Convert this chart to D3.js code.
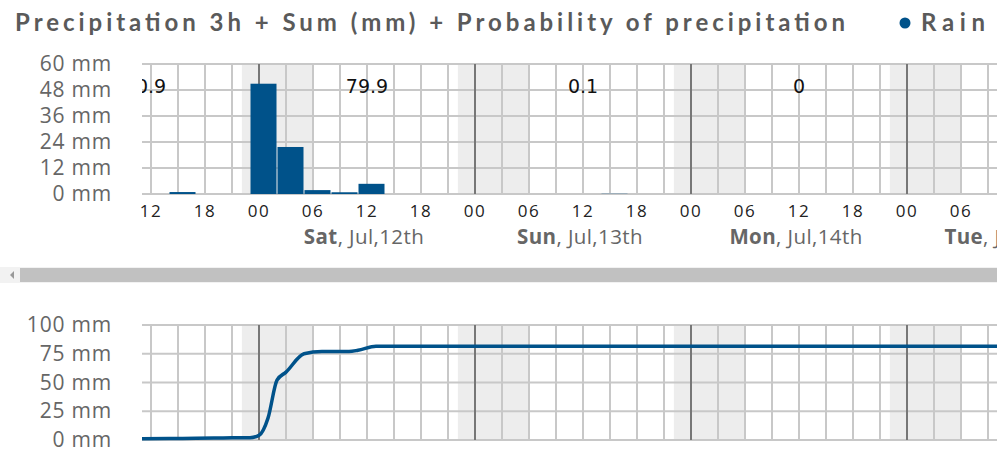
<!DOCTYPE html>
<html><head><meta charset="utf-8">
<script src="https://cdn.jsdelivr.net/npm/d3@7"></script>
<style>body{margin:0;background:#fff}svg{display:block}</style>
</head><body><svg id="c" width="997" height="464"></svg>
<script>
// hours relative to Fri, Jul 11th 00:00
const domainHours = [11, 106];
const barStarts = [14, 23, 26, 29, 32, 35, 62];
const barValues = [0.9, 50.9, 21.7, 1.8, 0.8, 4.7, 0.1];
const sumHours = [12, 36, 60, 84];
const sumLabels = ["0.9", "79.9", "0.1", "0"];
const cumHours = [11, 14, 17, 20, 23, 24, 25, 26, 27, 29, 31, 34, 35, 37, 62, 106];
const cumValues = [1, 1.2, 1.6, 1.8, 2, 4, 19, 52, 59, 75, 77, 77, 78, 81.5, 81.6, 81.6];
const midnights = [24, 48, 72, 96];
const nightBands = [[22.1, 30], [46.1, 54], [70.1, 78], [94.1, 102]];
const dayLabels = [["Sat", ", Jul,12th", 36], ["Sun", ", Jul,13th", 60], ["Mon", ", Jul,14th", 84], ["Tue", ", Jul,15th", 108]];
const topTicks = [0, 12, 24, 36, 48, 60];
const botTicks = [0, 25, 50, 75, 100];

const svg = d3.select("#c");
const x = d3.scaleLinear().domain(domainHours).range([142, 997]);
const yT = d3.scaleLinear().domain([0, 60]).range([194, 64]);
const yB = d3.scaleLinear().domain([0, 100]).range([440, 325]);
const blue = "#00528a";
const grid = "#c8c8c8";
const clip = svg.append("defs").append("clipPath").attr("id","pc");
clip.append("rect").attr("x",142).attr("y",0).attr("width",855).attr("height",464);

svg.append("text").attr("x",15).attr("y",31).text("Precipitation 3h + Sum (mm) + Probability of precipitation")
  .attr("font-family","Lato").attr("font-weight","bold").attr("font-size",24).attr("fill","#5a5a5a")
  .attr("textLength",830).attr("lengthAdjust","spacing");
svg.append("circle").attr("cx",905).attr("cy",23).attr("r",5.5).attr("fill",blue);
svg.append("text").attr("x",921).attr("y",31).text("Rain").attr("font-family","Lato").attr("font-weight","bold").attr("font-size",24).attr("fill","#5a5a5a")
  .attr("textLength",64).attr("lengthAdjust","spacing");

function panel(y, ticks){
  const g = svg.append("g").attr("clip-path","url(#pc)");
  const [y0,y1] = y.range();
  nightBands.forEach(b=>g.append("rect").attr("x",x(b[0])).attr("width",x(b[1])-x(b[0])).attr("y",y1).attr("height",y0-y1).attr("fill","#ededed"));
  d3.range(12, 106, 3).forEach(h=>{
    if (midnights.includes(h)) return;
    g.append("line").attr("x1",x(h)).attr("x2",x(h)).attr("y1",y1).attr("y2",y0).attr("stroke",grid).attr("stroke-width",2);
  });
  ticks.forEach(t=>{
    g.append("line").attr("x1",142).attr("x2",997).attr("y1",y(t)).attr("y2",y(t)).attr("stroke",grid).attr("stroke-width",2);
    svg.append("text").attr("x",112).attr("y",y(t)+7).attr("text-anchor","end").text(t+" mm")
      .attr("font-family","Open Sans").attr("font-size",21).attr("fill","#666").attr("letter-spacing","0.8");
  });
  midnights.forEach(h=>g.append("line").attr("x1",x(h)).attr("x2",x(h)).attr("y1",y1).attr("y2",y0).attr("stroke","#777").attr("stroke-width",2));
  return g;
}
const gT = panel(yT, topTicks);
barStarts.forEach((s,i)=>{
  gT.append("rect").attr("x",x(s)+0.5).attr("width",x(s+3)-x(s)-1).attr("y",yT(barValues[i])).attr("height",yT(0)-yT(barValues[i])).attr("fill",blue);
});
sumHours.forEach((h,i)=>gT.append("text").attr("x",x(h)).attr("y",93).attr("text-anchor","middle").text(sumLabels[i])
  .attr("font-family","DejaVu Sans").attr("font-size",19).attr("fill","#111"));
d3.range(12, 106, 6).forEach(h=>{
  svg.append("text").attr("x",x(h)).attr("y",217).attr("text-anchor","middle").text(d3.format("02")(h%24))
    .attr("font-family","Open Sans").attr("font-size",17).attr("fill","#222").attr("letter-spacing","1.5");
});
dayLabels.forEach(d=>{
  const t = svg.append("text").attr("x",x(d[2])+(d[0]==="Tue"?-8:-3)).attr("y",244).attr("text-anchor","middle")
    .attr("font-family","Open Sans").attr("font-size",20.5).attr("fill","#666").attr("letter-spacing","0.4");
  t.append("tspan").attr("font-weight","bold").text(d[0]);
  t.append("tspan").text(d[1]);
});
// scrollbar
svg.append("rect").attr("x",0).attr("y",267).attr("width",997).attr("height",16).attr("fill","#f2f2f2");
svg.append("rect").attr("x",20).attr("y",268).attr("width",977).attr("height",14).attr("fill","#c1c1c1");
svg.append("path").attr("d","M10,275 L14,271 L14,279 Z").attr("fill","#999");

const gB = panel(yB, botTicks);
const line = d3.line().x((d,i)=>x(cumHours[i])).y(d=>yB(d)).curve(d3.curveMonotoneX);
gB.append("path").attr("d",line(cumValues)).attr("fill","none").attr("stroke",blue).attr("stroke-width",3.5);
</script></body></html>
